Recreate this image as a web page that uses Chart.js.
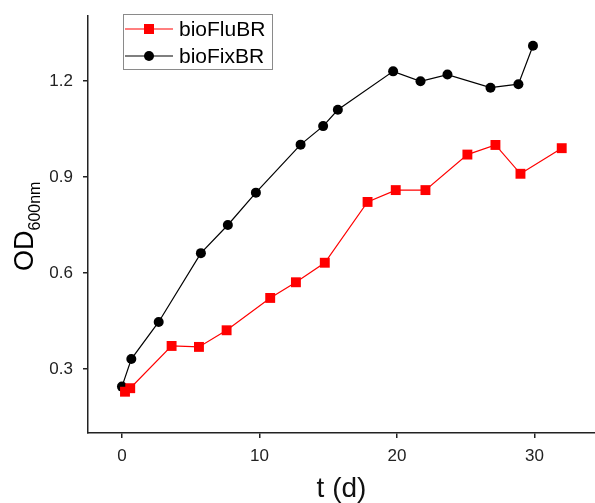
<!DOCTYPE html>
<html>
<head>
<meta charset="utf-8">
<script src="https://cdn.jsdelivr.net/npm/chart.js@4/dist/chart.umd.min.js"></script>
<style>
  html, body { margin: 0; padding: 0; background: #fff; }
  #wrap { width: 595px; height: 503px; position: relative; }
</style>
</head>
<body>
<div id="wrap"><canvas id="c" width="595" height="503"></canvas></div>
<script>
// ---- data ----
const seriesNames = ['bioFluBR', 'bioFixBR'];
const fluDays   = [0.22, 0.60, 3.61, 5.60, 7.61, 10.78, 12.65, 14.75, 17.86, 19.91, 22.07, 25.12, 27.16, 28.98, 31.98];
const fluOD     = [0.229, 0.240, 0.372, 0.369, 0.421, 0.522, 0.571, 0.632, 0.822, 0.859, 0.859, 0.970, 1.000, 0.910, 0.990];
const fixDays   = [0.00, 0.68, 2.67, 5.74, 7.70, 9.74, 12.99, 14.63, 15.70, 19.72, 21.71, 23.67, 26.80, 28.83, 29.89];
const fixOD     = [0.245, 0.331, 0.447, 0.662, 0.750, 0.851, 1.001, 1.059, 1.110, 1.230, 1.199, 1.220, 1.179, 1.190, 1.310];
const xTickValues = [0, 10, 20, 30];
const yTickValues = [0.3, 0.6, 0.9, 1.2];
const xTitle = 't (d)';
const yTitleMain = 'OD';
const yTitleSub = '600nm';

const FONT = '"Liberation Sans", Arial, sans-serif';

const toPts = (xs, ys) => xs.map((x, i) => ({ x: x, y: ys[i] }));

const yTitlePlugin = {
  id: 'yTitle',
  afterDraw(chart) {
    const ctx = chart.ctx;
    ctx.save();
    ctx.fillStyle = '#000';
    ctx.translate(33, 271);
    ctx.rotate(-Math.PI / 2);
    ctx.textAlign = 'left';
    ctx.textBaseline = 'alphabetic';
    ctx.font = '27px ' + FONT;
    ctx.fillText(yTitleMain, 0, 0);
    const w = ctx.measureText(yTitleMain).width;
    ctx.font = '16px ' + FONT;
    ctx.fillText(yTitleSub, w, 7);
    ctx.restore();
  }
};

const legendPlugin = {
  id: 'boxLegend',
  afterDraw(chart) {
    const ctx = chart.ctx;
    ctx.save();
    ctx.strokeStyle = '#8a8a8a';
    ctx.lineWidth = 1;
    ctx.strokeRect(123.5, 14.5, 149, 55);
    const rows = [29, 56];
    chart.data.datasets.forEach((ds, i) => {
      const y = rows[i];
      ctx.strokeStyle = ds.borderColor;
      ctx.lineWidth = 1.2;
      ctx.beginPath();
      ctx.moveTo(125, y);
      ctx.lineTo(173, y);
      ctx.stroke();
      ctx.fillStyle = ds.pointBackgroundColor;
      if (ds.pointStyle === 'rect') {
        ctx.fillRect(149 - 5, y - 5, 10, 10);
      } else {
        ctx.beginPath();
        ctx.arc(149, y, 5, 0, Math.PI * 2);
        ctx.fill();
      }
      ctx.fillStyle = '#000';
      ctx.font = '21px ' + FONT;
      ctx.textAlign = 'left';
      ctx.textBaseline = 'middle';
      ctx.fillText(ds.label, 179, y + 1);
    });
    ctx.restore();
  }
};

new Chart(document.getElementById('c'), {
  type: 'scatter',
  data: {
    datasets: [
      {
        label: seriesNames[0],
        data: toPts(fluDays, fluOD),
        showLine: true,
        borderColor: '#ff0000',
        backgroundColor: '#ff0000',
        pointBackgroundColor: '#ff0000',
        pointBorderColor: '#ff0000',
        pointBorderWidth: 0,
        borderWidth: 1.2,
        pointStyle: 'rect',
        pointRadius: 7,
        pointHoverRadius: 7,
        tension: 0
      },
      {
        label: seriesNames[1],
        data: toPts(fixDays, fixOD),
        showLine: true,
        borderColor: '#000000',
        backgroundColor: '#000000',
        pointBackgroundColor: '#000000',
        pointBorderColor: '#000000',
        pointBorderWidth: 0,
        borderWidth: 1.2,
        pointStyle: 'circle',
        pointRadius: 5,
        pointHoverRadius: 5,
        tension: 0
      }
    ]
  },
  options: {
    responsive: false,
    animation: false,
    events: [],
    layout: { autoPadding: false, padding: { top: 16, right: 0, bottom: 0, left: 0 } },
    plugins: {
      legend: { display: false },
      tooltip: { enabled: false }
    },
    scales: {
      x: {
        type: 'linear',
        min: -2.47,
        max: 34.4,
        afterBuildTicks: (s) => { s.ticks = xTickValues.map(v => ({ value: v })); },
        afterFit: (s) => { s.height = 70; s.paddingLeft = 0; s.paddingRight = 0; },
        grid: { display: true, drawOnChartArea: false, drawTicks: true, tickLength: 5, color: '#222', lineWidth: 1.5 },
        border: { display: true, color: '#222', width: 1.5 },
        ticks: { color: '#222', font: { family: FONT, size: 17 }, padding: 8, maxRotation: 0 },
        title: { display: true, text: xTitle, color: '#111', font: { family: FONT, size: 28, lineHeight: 1 }, padding: { top: 0, bottom: 0 } }
      },
      y: {
        type: 'linear',
        min: 0.1,
        max: 1.403,
        afterBuildTicks: (s) => { s.ticks = yTickValues.map(v => ({ value: v })); },
        afterFit: (s) => { s.width = 88; s.paddingTop = 0; s.paddingBottom = 0; },
        grid: { display: true, drawOnChartArea: false, drawTicks: true, tickLength: 5, color: '#222', lineWidth: 1.5 },
        border: { display: true, color: '#222', width: 1.5 },
        ticks: { color: '#222', font: { family: FONT, size: 17 }, padding: 10, callback: (v) => v.toFixed(1) }
      }
    }
  },
  plugins: [yTitlePlugin, legendPlugin]
});
</script>
</body>
</html>
